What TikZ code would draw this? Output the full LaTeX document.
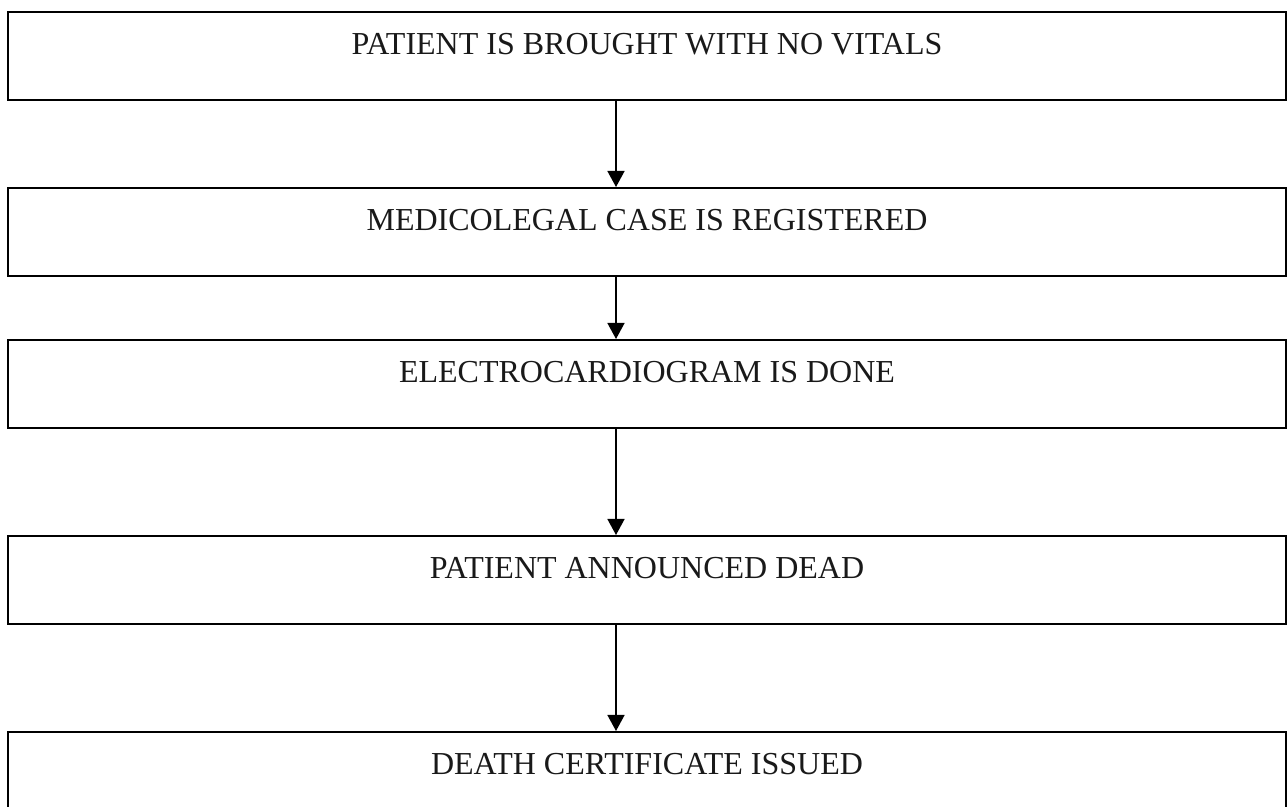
\documentclass[tikz,border=0pt]{standalone}
\usepackage{fontspec}
\setmainfont{Liberation Serif}
\usetikzlibrary{arrows.meta}
\begin{document}
\begin{tikzpicture}[x=0.5pt,y=-0.5pt,
    stepbox/.style={draw,line width=1.1pt,minimum width=639pt,inner sep=0pt,
      text height=21pt,text depth=23pt,anchor=north,
      font=\fontsize{16}{19}\selectfont,text=black!90},
    flow/.style={-{Triangle[length=8pt,width=8.5pt]},line width=0.75pt}]
  \clip (0,0) rectangle (1287,807);
  \node[stepbox] (novitals) at (647,11) {PATIENT IS BROUGHT WITH NO VITALS};
  \node[stepbox] (mlc) at (647,187) {MEDICOLEGAL CASE IS REGISTERED};
  \node[stepbox] (ecg) at (647,339) {ELECTROCARDIOGRAM IS DONE};
  \node[stepbox] (dead) at (647,535) {PATIENT ANNOUNCED DEAD};
  \node[stepbox] (cert) at (647,731) {DEATH CERTIFICATE ISSUED};
  % arrows run left of the box centre
  \coordinate (axis) at (616,0);
  \draw[flow] (novitals.south -| axis) -- (mlc.north -| axis);
  \draw[flow] (mlc.south -| axis) -- (ecg.north -| axis);
  \draw[flow] (ecg.south -| axis) -- (dead.north -| axis);
  \draw[flow] (dead.south -| axis) -- (cert.north -| axis);
\end{tikzpicture}
\end{document}
